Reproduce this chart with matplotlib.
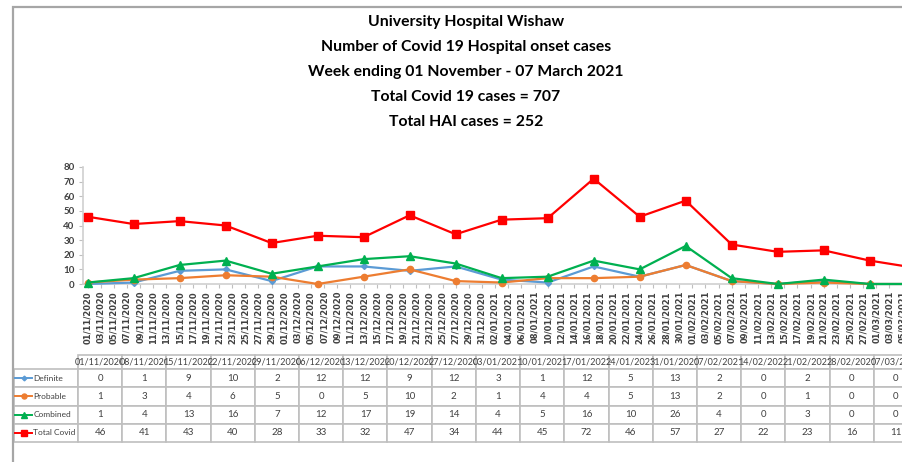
import datetime as dt
import matplotlib
matplotlib.use('Agg')
import matplotlib.pyplot as plt
import matplotlib.dates as mdates
from matplotlib.table import Table
from matplotlib.lines import Line2D
from matplotlib.patches import Rectangle
import pandas as pd

# Data (week ending)
weeks = ['01/11/2020', '08/11/2020', '15/11/2020', '22/11/2020', '29/11/2020',
         '06/12/2020', '13/12/2020', '20/12/2020', '27/12/2020', '03/01/2021',
         '10/01/2021', '17/01/2021', '24/01/2021', '31/01/2021', '07/02/2021',
         '14/02/2021', '21/02/2021', '28/02/2021', '07/03/2021']
definite = [0, 1, 9, 10, 2, 12, 12, 9, 12, 3, 1, 12, 5, 13, 2, 0, 2, 0, 0]
probable = [1, 3, 4, 6, 5, 0, 5, 10, 2, 1, 4, 4, 5, 13, 2, 0, 1, 0, 0]
combined = [1, 4, 13, 16, 7, 12, 17, 19, 14, 4, 5, 16, 10, 26, 4, 0, 3, 0, 0]
total_covid = [46, 41, 43, 40, 28, 33, 32, 47, 34, 44, 45, 72, 46, 57, 27, 22, 23, 16, 11]

series_names = ['Definite', 'Probable', 'Combined', 'Total Covid']
title_lines = ['University Hospital Wishaw',
               'Number of Covid 19 Hospital onset cases',
               'Week ending 01 November - 07 March 2021',
               'Total Covid 19 cases = 707',
               'Total HAI cases = 252']

# Styles
colors = ['#5B9BD5', '#ED7D31', '#00B050', '#FF0000']
markers = ['D', 'o', '^', 's']
msizes = [3, 4.5, 5.5, 5.5]
GRID = '#BFBFBF'
TXT = '#404040'
FONT = ['Lato', 'DejaVu Sans']

W, H = 902, 462


def fx(px):
    return px / W


def fy(py):
    return 1 - py / H


def main():
    fig = plt.figure(figsize=(W / 100, H / 100), dpi=100)
    fig.patch.set_facecolor('white')

    # chart frame (cropped on the right / bottom)
    fig.add_artist(Rectangle((fx(13), fy(500)), fx(1000), fy(7) - fy(500),
                             transform=fig.transFigure, fill=False,
                             edgecolor='#A6A6A6', linewidth=1.6))

    # titles
    for i, line in enumerate(title_lines):
        fig.text(fx(466), fy(22 + 25 * i), line, ha='center', va='center',
                 fontsize=11.3, fontweight='bold', family=FONT, color='black')

    # plot area
    dates = [dt.datetime.strptime(d, '%d/%m/%Y') for d in weeks]
    x = mdates.date2num(dates)
    ax = fig.add_axes([fx(83), fy(284), (919 - 83) / W, (284 - 167) / H])
    for vals, c, m, ms in zip([definite, probable, combined, total_covid],
                              colors, markers, msizes):
        ax.plot(x, vals, color=c, marker=m, markersize=ms, linewidth=1.6,
                clip_on=False, zorder=3)

    ax.set_xlim(x[0] - 0.7, x[-1] + 0.5)
    ax.set_ylim(0, 80)
    ax.set_yticks(range(0, 81, 10))
    ticks = mdates.date2num(pd.date_range(dates[0], dates[-1], freq='2D').to_pydatetime())
    ax.set_xticks(ticks)
    ax.xaxis.set_major_formatter(mdates.DateFormatter('%d/%m/%Y'))
    for lab in ax.get_xticklabels():
        lab.set_rotation(90)
        lab.set_fontsize(6)
        lab.set_fontweight('bold')
    for lab in ax.get_yticklabels():
        lab.set_fontsize(7)
        lab.set_family(FONT)
        lab.set_fontweight('bold')
    ax.tick_params(axis='both', colors=GRID, labelcolor=TXT, length=3, width=0.8)
    ax.tick_params(axis='x', pad=2)
    ax.tick_params(axis='y', pad=3)
    for s in ['top', 'right']:
        ax.spines[s].set_visible(False)
    for s in ['left', 'bottom']:
        ax.spines[s].set_color('#D0D0D0')
        ax.spines[s].set_linewidth(1.2)

    # data table: axes covers the value columns, row labels hang off to the left
    tax = fig.add_axes([fx(78), fy(442), (918 - 78) / W, (442 - 355) / H])
    tax.axis('off')
    tab = Table(tax, bbox=[0, 0, 1, 1])
    lab_w, col_w = 64 / 840, 44.2 / 840
    head_h, row_h = 14 / 87, 18.25 / 87
    for j, wk in enumerate(weeks):
        tab.add_cell(0, j, col_w, head_h, text=wk, loc='center',
                     edgecolor=GRID, facecolor='white')
    rows = [definite, probable, combined, total_covid]
    for i, (name, vals) in enumerate(zip(series_names, rows), start=1):
        c = tab.add_cell(i, -1, lab_w, row_h, text=name, loc='left',
                         edgecolor=GRID, facecolor='white')
        c.PAD = 0.3
        for j, v in enumerate(vals):
            tab.add_cell(i, j, col_w, row_h, text=str(v), loc='center',
                         edgecolor=GRID, facecolor='white')
    tab.auto_set_font_size(False)
    tab.set_fontsize(7)
    for (r, cidx), cell in tab.get_celld().items():
        cell.set_linewidth(1.2)
        cell.get_text().set_color(TXT)
        cell.get_text().set_family(FONT)
        if r == 0:
            cell.get_text().set_fontsize(6.5)
        if cidx == -1:
            cell.get_text().set_fontsize(6)
    tax.add_table(tab)

    # legend keys inside the table row labels
    for i, (c, m, ms) in enumerate(zip(colors, markers, msizes)):
        yc = fy(378 + 18.3 * i)
        fig.add_artist(Line2D([fx(15), fx(32)], [yc, yc], transform=fig.transFigure,
                              color=c, linewidth=1.4))
        fig.add_artist(Line2D([fx(23.5)], [yc], transform=fig.transFigure,
                              color=c, marker=m, markersize=ms * 0.8))

    fig.savefig('out.png', dpi=100)


if __name__ == '__main__':
    main()
